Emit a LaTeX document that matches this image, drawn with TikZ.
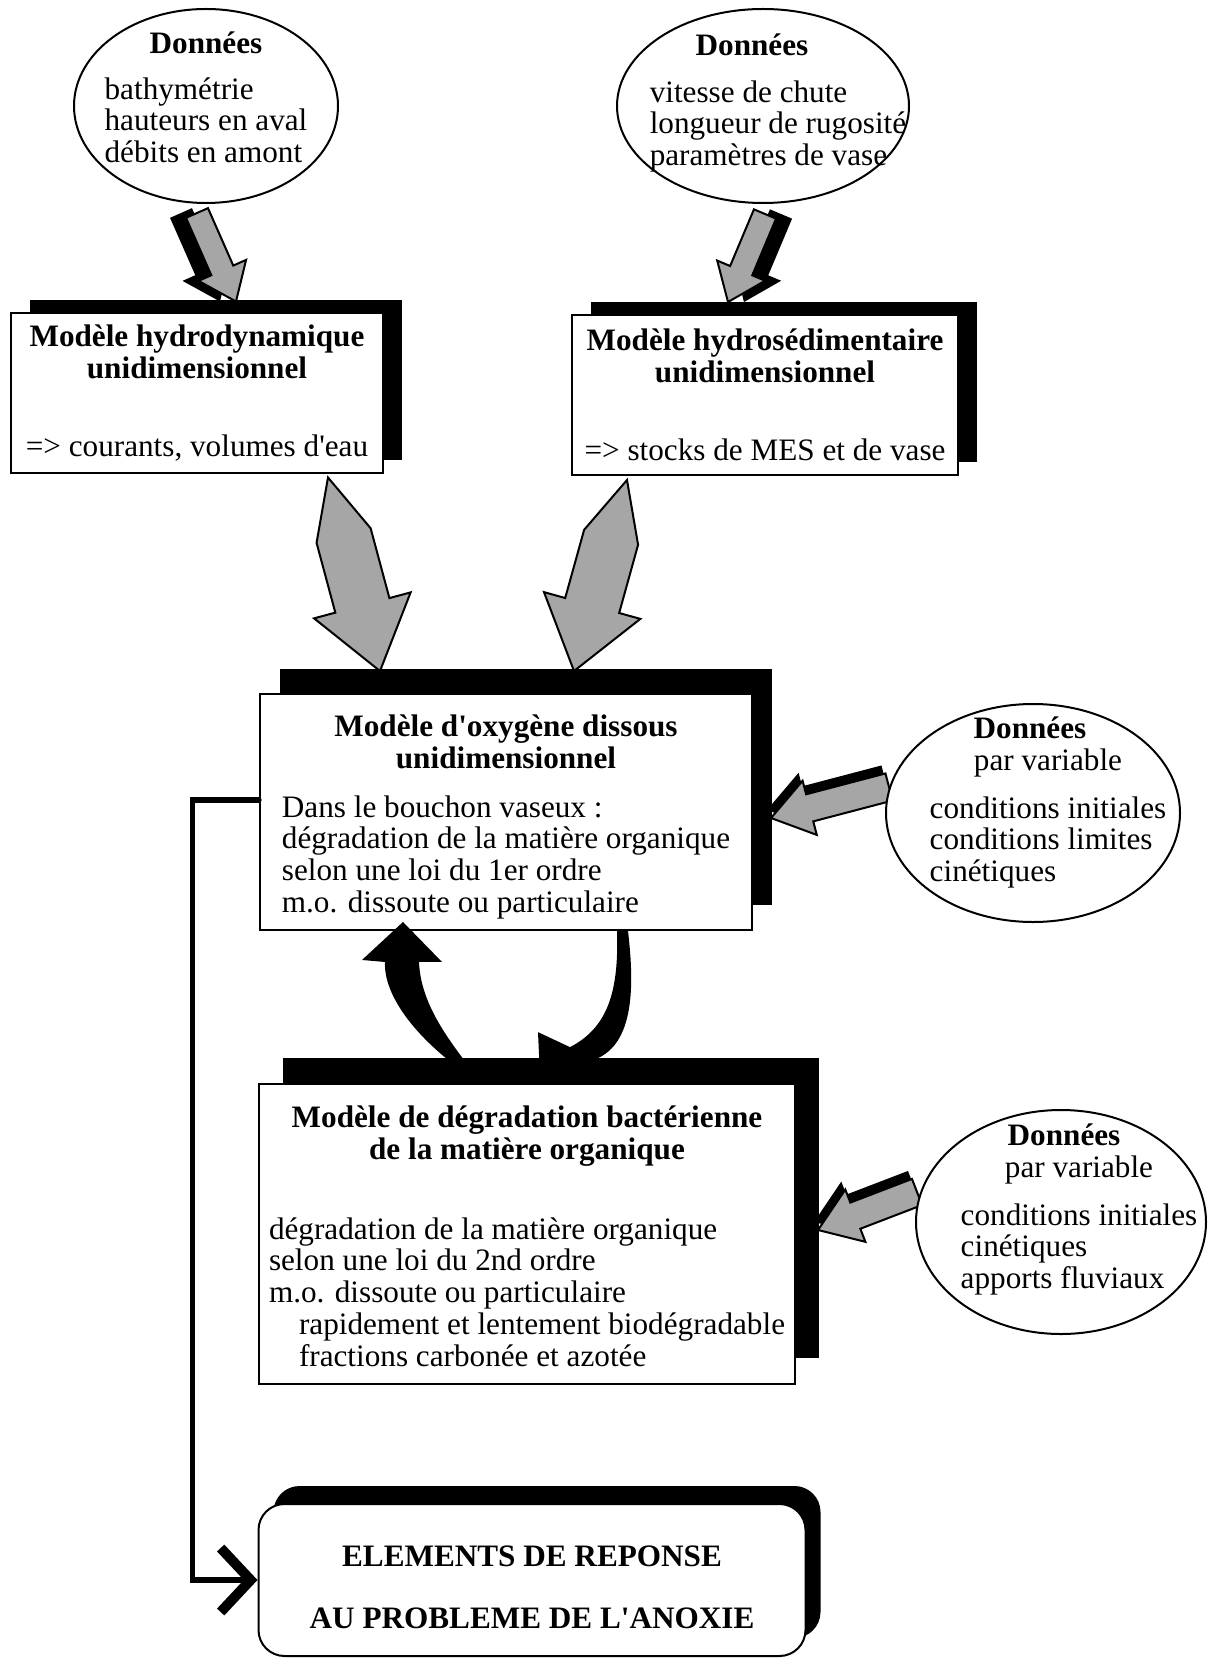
\documentclass[tikz,border=0pt]{standalone}
\usepackage{fontspec}
\newfontfamily\plainfont{Liberation Serif}
\usetikzlibrary{shapes.geometric,shadows,calc,arrows.meta,backgrounds}

\newcommand{\fatpath}[6]{($(#1)!#3!90:(#2)$) -- ($(#1)!.3!(#2)!#4!90:(#2)$) -- ($(#2)!#6!(#1)!#4!90:(#2)$) -- ($(#2)!#6!(#1)!#5!90:(#2)$) -- (#2) -- ($(#2)!#6!(#1)!#5!-90:(#2)$) -- ($(#2)!#6!(#1)!#4!-90:(#2)$) -- ($(#1)!.3!(#2)!#4!-90:(#2)$) -- ($(#1)!#3!-90:(#2)$) -- cycle}
\newcommand{\fatarrow}[8]{%
  \begin{scope}[transform canvas={xshift=#7,yshift=#8}]
    \fill[black] \fatpath{#1}{#2}{#3}{#4}{#5}{#6};
  \end{scope}
  \filldraw[bigarrow] \fatpath{#1}{#2}{#3}{#4}{#5}{#6};
}

\tikzset{
  txt/.style={font=\plainfont\fontsize{15.6}{15.9}\selectfont},
  data/.style={draw,shape=ellipse,fill=white,line width=1pt,inner sep=0pt},
  datatext/.style={txt,align=center,inner sep=0pt},
  model/.style={draw,fill=white,line width=1pt,txt,align=center,inner sep=4pt},
  boxshadow/.style 2 args={drop shadow={shadow xshift=#1,shadow yshift=#2,fill=black,opacity=1}},
  bigarrow/.style={fill=black!35,draw=black,line width=1pt},
  bendarrow/.style={fill=black},
  feedback/.style={line width=2.6pt,line cap=round,-{Straight Barb[length=15pt,width=32pt,line width=5pt]}}
}

\begin{document}
\begin{tikzpicture}[x=0.5pt,y=-0.5pt]
  \useasboundingbox (0,0) rectangle (1214,1658);

  \path (206,106)  node[data,minimum width=132pt,minimum height=97pt]  (ell1) {};
  \path (763,106)  node[data,minimum width=146pt,minimum height=97pt]  (ell2) {};
  \path (1033,813) node[data,minimum width=147pt,minimum height=109pt] (ell3) {};
  \path (1061,1222) node[data,minimum width=145pt,minimum height=112pt] (ell4) {};

  \path (206,102)   node[datatext] (ell1txt) {\textbf{Données}\\[7pt]\begin{tabular}[t]{@{}l@{}}bathymétrie\\hauteurs en aval\\débits en amont\end{tabular}};
  \path (778,104.5) node[datatext] (ell2txt) {\textbf{Données}\hspace*{26pt}\\[7.5pt]\begin{tabular}[t]{@{}l@{}}vitesse de chute\\longueur de rugosité\\paramètres de vase\end{tabular}};
  \path (1048,804)  node[datatext] (ell3txt) {\textbf{Données}\hspace*{18pt}\\par variable\hspace*{18pt}\\[8pt]\begin{tabular}[t]{@{}l@{}}conditions initiales\\conditions limites\\cinétiques\end{tabular}};
  \path (1079,1211) node[datatext] (ell4txt) {\textbf{Données}\hspace*{15pt}\\par variable\hspace*{15pt}\\[8pt]\begin{tabular}[t]{@{}l@{}}conditions initiales\\cinétiques\\apports fluviaux\end{tabular}};

  \path (197,393)  node[model,minimum width=186pt,minimum height=79.5pt,boxshadow={9.5pt}{6.5pt}] (box1)
    {\textbf{Modèle hydrodynamique}\\\textbf{unidimensionnel}\\[23pt]=> courants, volumes d'eau};
  \path (765,395)  node[model,minimum width=193pt,minimum height=80pt,boxshadow={9.5pt}{6.5pt}] (box2)
    {\textbf{Modèle hydrosédimentaire}\\\textbf{unidimensionnel}\\[23pt]=> stocks de MES et de vase};
  \path (506,812)  node[model,minimum width=246pt,minimum height=114pt,boxshadow={10pt}{12.5pt}] (box3)
    {\rule{0pt}{17.2pt}\textbf{Modèle d'oxygène dissous}\\\textbf{unidimensionnel}\\[8.5pt]\begin{tabular}[t]{@{}l@{}}Dans le bouchon vaseux :\\dégradation de la matière organique\\selon une loi du 1er ordre\\m.o. dissoute ou particulaire\end{tabular}};
  \path (527,1234) node[model,minimum width=268pt,minimum height=144.5pt,boxshadow={12pt}{13pt}] (box4)
    {\rule{0pt}{17.7pt}\textbf{Modèle de dégradation bactérienne}\\\textbf{de la matière organique}\\[24pt]\begin{tabular}[t]{@{}l@{}}dégradation de la matière organique\\selon une loi du 2nd ordre\\m.o. dissoute ou particulaire\\\hspace{15pt}rapidement et lentement biodégradable\\\hspace{15pt}fractions carbonée et azotée\end{tabular}};
  \path (532,1580) node[model,rounded corners=13pt,minimum width=273.5pt,minimum height=76pt,boxshadow={7.5pt}{9pt}] (final)
    {\rule{0pt}{17.7pt}\textbf{ELEMENTS DE REPONSE}\\[14.8pt]\textbf{AU PROBLEME DE L'ANOXIE}};

  \coordinate (a1s) at ($(ell1.south)+(-9,9)$);
  \coordinate (a1e) at ($(box1.north)+(39,-11)$);
  \coordinate (a2s) at ($(ell2.south)+(2,10)$);
  \coordinate (a2e) at ($(box2.north)+(-37,-12)$);
  \coordinate (a3s) at ($(box1.south east)+(-56,4)$);
  \coordinate (a3e) at ($(box3.north)+(-126,-22)$);
  \coordinate (a4s) at ($(box2.south west)+(56,4)$);
  \coordinate (a4e) at ($(box3.north)+(68,-22)$);
  \coordinate (a5s) at ($(ell3.west)+(4,-26)$);
  \coordinate (a5e) at ($(box3.east)+(18,6)$);
  \coordinate (a6s) at ($(ell4.west)+(2,-30)$);
  \coordinate (a6e) at ($(box4.east)+(22,-4)$);

  \begin{scope}[on background layer]
    \fatarrow{a1s}{a1e}{6pt}{6pt}{13pt}{17pt}{-8pt}{0pt}
    \fatarrow{a2s}{a2e}{6pt}{6pt}{13pt}{17pt}{8pt}{0pt}
    \fatarrow{a3s}{a3e}{0pt}{14pt}{25pt}{34pt}{0pt}{0pt}
    \fatarrow{a4s}{a4e}{0pt}{14pt}{25pt}{34pt}{0pt}{0pt}
    \fatarrow{a5s}{a5e}{7pt}{7pt}{14pt}{20pt}{-2pt}{4pt}
    \fatarrow{a6s}{a6e}{7pt}{7pt}{14pt}{20pt}{-2pt}{4pt}
  \end{scope}

  \coordinate (c1s) at ($(box4.north)+(-47,-1)$);
  \coordinate (c1e) at ($(box3.south)+(-103,-9)$);
  \coordinate (c2s) at ($(box3.south)+(116,2)$);
  \coordinate (c2e) at ($(box4.north)+(13,-6)$);
  \fill[bendarrow] (c1s) .. controls ($(c1s)+(-50,-30)$) and ($(c1e)+(-20,80)$) .. ($(c1e)+(-18,40)$)
    -- ($(c1e)+(-41,38)$) -- (c1e) -- ($(c1e)+(39,40)$) -- ($(c1e)+(16,40)$)
    .. controls ($(c1e)+(18,90)$) and ($(c1s)+(-20,-30)$) .. (c1s) -- cycle;
  \fill[bendarrow] ($(c2s)+(-5,-2)$) .. controls ($(c2s)+(-3,60)$) and ($(c2s)+(-15,95)$) .. ($(c2e)+(30,-30)$)
    -- ($(c2e)+(-2,-45)$) -- (c2e) -- ($(c2e)+(52,4)$) -- ($(c2e)+(45,-15)$)
    .. controls ($(c2s)+(15,120)$) and ($(c2s)+(12,50)$) .. ($(c2s)+(6,-2)$) -- cycle;

  \coordinate (fbs) at ($(box3.west)+(0,-12)$);
  \coordinate (fbc) at ($(final.west)+(-65,0)$);
  \draw[feedback] (fbs) -| (fbc) -- (final.west);

\end{tikzpicture}
\end{document}
